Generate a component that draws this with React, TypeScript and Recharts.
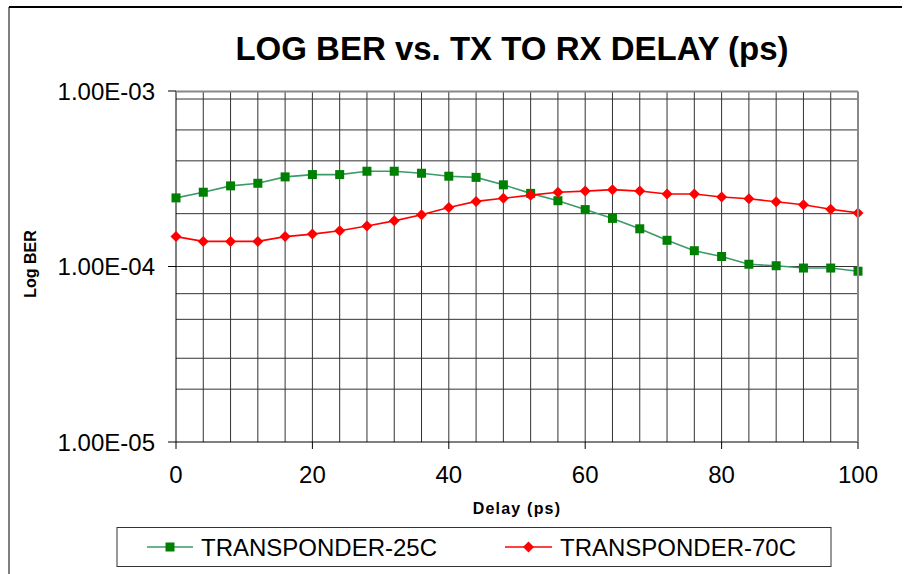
import React from 'react';
import { LineChart, Line, XAxis, YAxis, CartesianGrid } from 'recharts';

// Delay (ps) sampled every 4 ps
const delays = [0, 4, 8, 12, 16, 20, 24, 28, 32, 36, 40, 44, 48, 52, 56, 60, 64, 68, 72, 76, 80, 84, 88, 92, 96, 100];

const ber25C = [
  2.46e-4, 2.65e-4, 2.88e-4, 2.98e-4, 3.24e-4, 3.34e-4, 3.34e-4, 3.49e-4, 3.49e-4, 3.40e-4,
  3.27e-4, 3.22e-4, 2.92e-4, 2.61e-4, 2.37e-4, 2.11e-4, 1.88e-4, 1.64e-4, 1.41e-4, 1.23e-4,
  1.14e-4, 1.03e-4, 1.01e-4, 0.98e-4, 0.98e-4, 0.94e-4,
];

const ber70C = [
  1.48e-4, 1.39e-4, 1.39e-4, 1.39e-4, 1.48e-4, 1.53e-4, 1.60e-4, 1.70e-4, 1.82e-4, 1.97e-4,
  2.17e-4, 2.35e-4, 2.45e-4, 2.55e-4, 2.65e-4, 2.69e-4, 2.74e-4, 2.69e-4, 2.59e-4, 2.59e-4,
  2.49e-4, 2.43e-4, 2.34e-4, 2.25e-4, 2.12e-4, 2.02e-4,
];

const xTicks = [0, 20, 40, 60, 80, 100];
const yTicks = [1e-5, 1e-4, 1e-3];
const xGrid = [4, 8, 12, 16, 20, 24, 28, 32, 36, 40, 44, 48, 52, 56, 60, 64, 68, 72, 76, 80, 84, 88, 92, 96];
const yGrid = [
  2e-5, 3e-5, 4e-5, 5e-5, 6e-5, 7e-5, 8e-5, 9e-5, 1e-4,
  2e-4, 3e-4, 4e-4, 5e-4, 6e-4, 7e-4, 8e-4, 9e-4,
];

const data = delays.map((d, i) => ({ delay: d, t25: ber25C[i], t70: ber70C[i] }));

const FONT = '"Liberation Sans", Arial, sans-serif';

const fmtExp = (v: number) => {
  const e = Math.round(Math.log10(v));
  const m = v / Math.pow(10, e);
  return `${m.toFixed(2)}E${e < 0 ? '-' : '+'}${String(Math.abs(e)).padStart(2, '0')}`;
};

const SquareDot = (props: any) => {
  const { cx, cy, index } = props;
  if (cx == null || cy == null) return <g key={`s-${index}`} />;
  return <rect key={`s-${index}`} x={cx - 4.5} y={cy - 4.5} width={9} height={9} fill="#008000" />;
};

const DiamondDot = (props: any) => {
  const { cx, cy, index } = props;
  if (cx == null || cy == null) return <g key={`d-${index}`} />;
  const r = 5.5;
  return (
    <polygon
      key={`d-${index}`}
      points={`${cx},${cy - r} ${cx + r},${cy} ${cx},${cy + r} ${cx - r},${cy}`}
      fill="#ff0000"
    />
  );
};

export default function App() {
  return (
    <div style={{ position: 'absolute', left: 0, top: 0, width: 906, height: 574, background: '#fff', fontFamily: FONT }}>
      <LineChart
        width={906}
        height={574}
        data={data}
        margin={{ top: 91, right: 48, bottom: 72, left: 0 }}
      >
        <CartesianGrid
          stroke="#333"
          strokeWidth={1}
          horizontalValues={yGrid}
          verticalValues={xGrid}
        />
        <XAxis
          dataKey="delay"
          type="number"
          domain={[0, 100]}
          ticks={xTicks}
          height={60}
          tickSize={7}
          tickMargin={17}
          axisLine={{ stroke: '#000' }}
          tickLine={{ stroke: '#000' }}
          tick={{ fill: '#000', fontSize: 24, fontFamily: FONT }}
        />
        <YAxis
          scale="log"
          domain={[1e-5, 1e-3]}
          allowDataOverflow
          ticks={yTicks}
          width={176}
          tickSize={8}
          tickMargin={13}
          tickFormatter={fmtExp}
          axisLine={{ stroke: '#000' }}
          tickLine={{ stroke: '#000' }}
          tick={{ fill: '#000', fontSize: 24, fontFamily: FONT }}
        />
        <Line
          type="linear"
          dataKey="t25"
          stroke="#3a9a6a"
          strokeWidth={1.6}
          dot={SquareDot}
          activeDot={false}
          isAnimationActive={false}
        />
        <Line
          type="linear"
          dataKey="t70"
          stroke="#ff0000"
          strokeWidth={1.6}
          dot={DiamondDot}
          activeDot={false}
          isAnimationActive={false}
        />
      </LineChart>

      <svg
        width={906}
        height={574}
        style={{ position: 'absolute', left: 0, top: 0, pointerEvents: 'none' }}
        fontFamily={FONT}
      >
        {/* frame */}
        <line x1={9} y1={7} x2={902} y2={7} stroke="#000" strokeWidth={2} />
        <line x1={9} y1={7} x2={9} y2={574} stroke="#000" strokeWidth={1} />
        {/* plot top/right edges */}
        <line x1={176} y1={91.5} x2={858} y2={91.5} stroke="#888" strokeWidth={2} />
        <line x1={858} y1={91.5} x2={858} y2={442} stroke="#888" strokeWidth={2} />

        <text x={512} y={60} textAnchor="middle" fontSize={33} fontWeight="bold" fill="#000">
          LOG BER vs. TX TO RX DELAY (ps)
        </text>
        <text
          x={36}
          y={264}
          transform="rotate(-90, 36, 264)"
          textAnchor="middle"
          fontSize={16}
          fontWeight="bold"
          fill="#000"
        >
          Log BER
        </text>
        <text x={517} y={514} textAnchor="middle" fontSize={16} fontWeight="bold" letterSpacing={1.2} fill="#000">
          Delay (ps)
        </text>

        {/* legend */}
        <rect x={117} y={527.5} width={714} height={39} fill="#fff" stroke="#333" strokeWidth={1} />
        <line x1={147} y1={547} x2={193} y2={547} stroke="#3a9a6a" strokeWidth={1.6} />
        <rect x={165.5} y={542.5} width={9} height={9} fill="#008000" />
        <text x={201} y={555.5} fontSize={24} fill="#000">TRANSPONDER-25C</text>
        <line x1={505} y1={547} x2={552} y2={547} stroke="#ff0000" strokeWidth={1.6} />
        <polygon points="528.5,541.5 534,547 528.5,552.5 523,547" fill="#ff0000" />
        <text x={560} y={555.5} fontSize={24} fill="#000">TRANSPONDER-70C</text>
      </svg>
    </div>
  );
}
